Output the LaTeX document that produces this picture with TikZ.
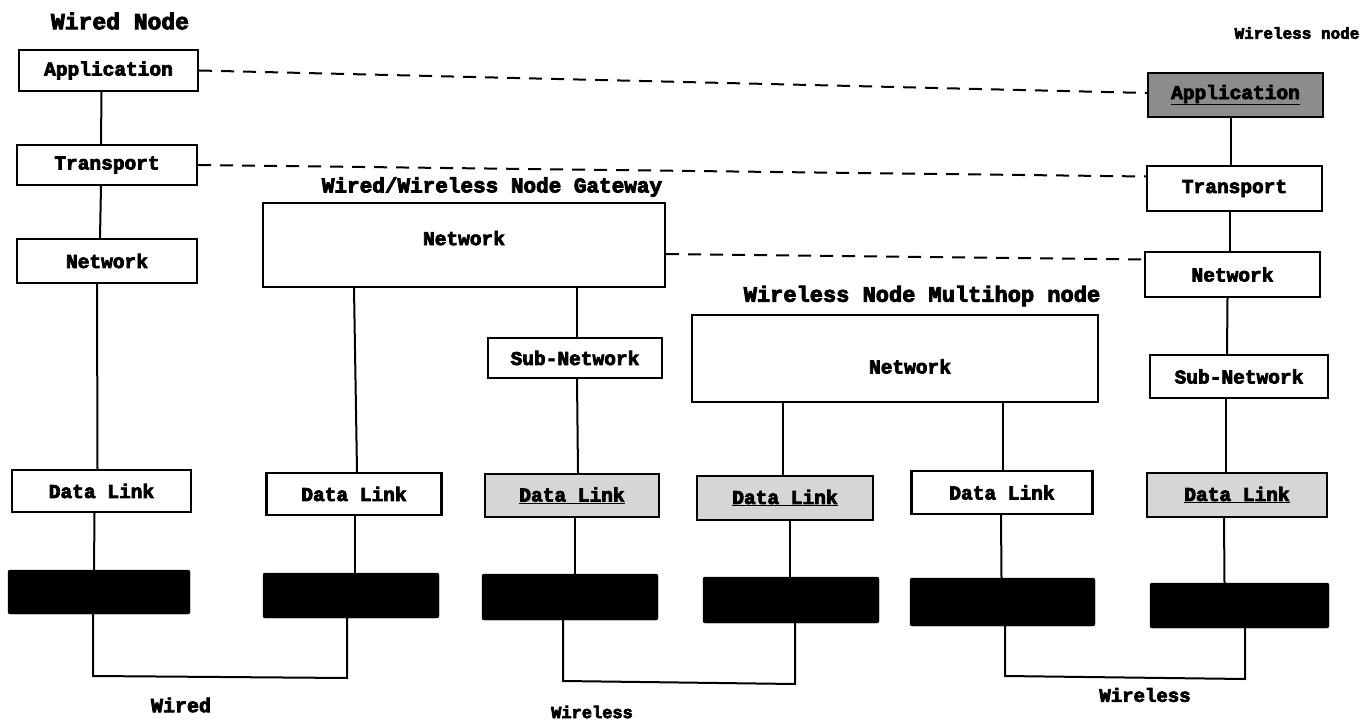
\documentclass[tikz,border=0pt]{standalone}
\usepackage{fontspec}
\newfontfamily\heavy{Liberation Mono}[UprightFont={* Bold}, FakeBold=4]
\begin{document}
\begin{tikzpicture}[x=1pt,y=-1pt,
  layer/.style={draw=black, line width=2.4pt, fill=white, inner sep=0pt,
    font=\heavy\fontsize{19.5}{19.5}\selectfont},
  shaded/.style={layer, fill=black!16},
  dark/.style={layer, fill=black!45},
  phys/.style={draw=black, fill=black, rounded corners=2pt, inner sep=0pt},
  link/.style={line width=2pt},
  peer/.style={line width=2pt, dash pattern=on 13pt off 9pt},
  title/.style={font=\heavy\fontsize{#1}{#1}\selectfont, inner sep=0pt}
]
\useasboundingbox[fill=white] (0,0) rectangle (1363,722);

% ---- wired node ----
\node[title=23] (tWired) at (120,21) {Wired Node};
\node[layer, minimum width=179pt, minimum height=41pt] (wApp) at (108.5,70.5) {Application};
\node[layer, minimum width=180pt, minimum height=40pt] (wTra) at (107,165) {Transport};
\node[layer, minimum width=180pt, minimum height=44pt] (wNet) at (107,261) {Network};
\node[layer, minimum width=179pt, minimum height=42pt] (wDL) at (101.5,491) {Data Link};
\node[phys, minimum width=182pt, minimum height=44pt] (wPhy) at (99,592) {};

% ---- wired/wireless gateway ----
\node[title=21] (tGate) at (492,187) {Wired/Wireless Node Gateway};
\node[layer, minimum width=402pt, minimum height=84pt, text depth=14pt] (gNet) at (464,245) {Network};
\node[layer, minimum width=174pt, minimum height=40pt] (gSub) at (575,358) {Sub-Network};
\node[layer, minimum width=175pt, minimum height=42pt] (gDLL) at (354,494) {Data Link};
\node[shaded, minimum width=174pt, minimum height=43pt] (gDLR) at (572,495.5) {\underline{Data Link}};
\node[phys, minimum width=176pt, minimum height=45pt] (gPhyL) at (351,595.5) {};
\node[phys, minimum width=176pt, minimum height=46pt] (gPhyR) at (570,597) {};

% ---- wireless multihop node ----
\node[title=22] (tHop) at (922,296) {Wireless Node Multihop node};
\node[layer, minimum width=406pt, minimum height=87pt, text height=30pt] (mNet) at (895,358.5) {\hspace*{30pt}Network};
\node[shaded, minimum width=176pt, minimum height=44pt] (mDLL) at (785,498) {\underline{Data Link}};
\node[layer, minimum width=181pt, minimum height=43pt] (mDLR) at (1002,492.5) {Data Link};
\node[phys, minimum width=176pt, minimum height=46pt] (mPhyL) at (791,600) {};
\node[phys, minimum width=185pt, minimum height=48pt] (mPhyR) at (1002.5,602) {};

% ---- wireless node ----
\node[title=16] (tWless) at (1297,33) {Wireless node};
\node[dark, minimum width=175pt, minimum height=44pt] (rApp) at (1235.5,95) {\underline{Application}};
\node[layer, minimum width=175pt, minimum height=45pt] (rTra) at (1234.5,188.5) {Transport};
\node[layer, minimum width=175pt, minimum height=45pt] (rNet) at (1232.5,274.5) {Network};
\node[layer, minimum width=178pt, minimum height=43pt] (rSub) at (1239,376.5) {Sub-Network};
\node[shaded, minimum width=180pt, minimum height=44pt] (rDL) at (1237,495) {\underline{Data Link}};
\node[phys, minimum width=179pt, minimum height=45pt] (rPhy) at (1239.5,605.5) {};

% ---- medium labels ----
\node[title=20] (lWired) at (181,705) {Wired};
\node[title=17] (lWl1) at (592,712) {Wireless};
\node[title=19] (lWl2) at (1145,695) {Wireless};

% ---- protocol stack connections ----
\draw[link] ([xshift=-7pt]wApp.south) -- ([xshift=-6pt]wTra.north);
\draw[link] ([xshift=-6pt]wTra.south) -- ([xshift=-7pt]wNet.north);
\draw[link] ([xshift=-10pt]wNet.south) -- ([xshift=-4pt]wDL.north);
\draw[link] ([xshift=-7pt]wDL.south) -- ([xshift=-5pt]wPhy.north);

\draw[link] (gDLL.north |- gNet.south) -- ([xshift=3pt]gDLL.north);
\draw[link] ([xshift=1pt]gDLL.south) -- ([xshift=4pt]gPhyL.north);
\draw[link] ([xshift=2pt]gSub.north |- gNet.south) -- ([xshift=2pt]gSub.north);
\draw[link] ([xshift=2pt]gSub.south) -- ([xshift=6pt]gDLR.north);
\draw[link] ([xshift=3pt]gDLR.south) -- ([xshift=5pt]gPhyR.north);

\draw[link] ([xshift=-2pt]mDLL.north |- mNet.south) -- ([xshift=-2pt]mDLL.north);
\draw[link] ([xshift=5pt]mDLL.south) -- ([xshift=-1pt]mPhyL.north);
\draw[link] ([xshift=1pt]mDLR.north |- mNet.south) -- ([xshift=1pt]mDLR.north);
\draw[link] ([xshift=-1pt]mDLR.south) -- ([xshift=-1pt]mPhyR.north);

\draw[link] ([xshift=-5pt]rApp.south) -- ([xshift=-4pt]rTra.north);
\draw[link] ([xshift=-5pt]rTra.south) -- ([xshift=-3pt]rNet.north);
\draw[link] ([xshift=-5pt]rNet.south) -- ([xshift=-12pt]rSub.north);
\draw[link] ([xshift=-13pt]rSub.south) -- ([xshift=-11pt]rDL.north);
\draw[link] ([xshift=-13pt]rDL.south) -- ([xshift=-15pt]rPhy.north);

% ---- peer-to-peer (logical) links ----
\draw[peer] (wApp.east) -- ([yshift=2pt]rApp.west);
\draw[peer] (wTra.east) -- ([yshift=12pt]rTra.west);
\draw[peer] ([yshift=-9pt]gNet.east) -- ([yshift=15pt]rNet.west);

% ---- physical media ----
\coordinate (wb1) at (93,676);
\coordinate (wb2) at (347,678);
\draw[link] ([xshift=-6pt]wPhy.south) -- (wb1) -- (wb2) -- ([xshift=-4pt]gPhyL.south);

\coordinate (lb1) at (563,681);
\coordinate (lb2) at (795,684);
\draw[link] ([xshift=-7pt]gPhyR.south) -- (lb1) -- (lb2) -- ([xshift=4pt]mPhyL.south);

\coordinate (rb1) at (1005,676);
\coordinate (rb2) at (1245,679);
\draw[link] ([xshift=2.5pt]mPhyR.south) -- (rb1) -- (rb2) -- ([xshift=5.5pt]rPhy.south);
\end{tikzpicture}
\end{document}
